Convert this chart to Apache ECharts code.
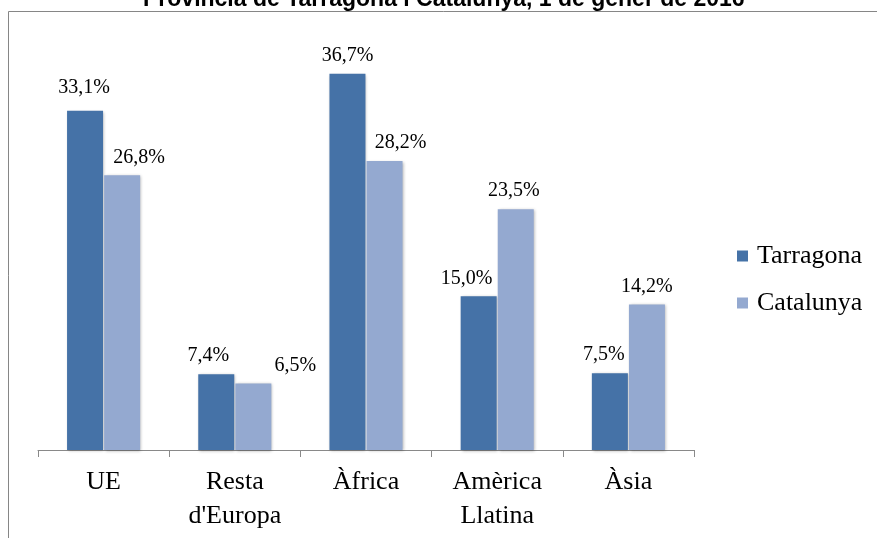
<!DOCTYPE html>
<html>
<head>
<meta charset="utf-8">
<script src="https://cdn.jsdelivr.net/npm/echarts@6/dist/echarts.min.js"></script>
<style>html,body{margin:0;padding:0;background:#fff;}#c{width:877px;height:538px;}</style>
</head>
<body>
<div id="c"></div>
<script>
var titleText = 'Província de Tarragona i Catalunya, 1 de gener de 2016';
var categories = ['UE', "Resta\nd'Europa", 'Àfrica', 'Amèrica\nLlatina', 'Àsia'];
var seriesNames = ['Tarragona', 'Catalunya'];
var tarragona = [33.1, 7.4, 36.7, 15.0, 7.5];
var catalunya = [26.8, 6.5, 28.2, 23.5, 14.2];

// label offsets (style only, per point)
var offT = [[-1, -5], [-8, 0], [0, 0], [-12, 0], [-6, 0]];
var offC = [[17, 0], [42, 0], [16, 0], [-2, 0], [0, 0]];

function fmt(p) { return p.value.toFixed(1).replace('.', ',') + '%'; }
function build(vals, offs) {
  return vals.map(function (v, i) {
    return { value: v, label: { offset: offs[i] } };
  });
}
var labelStyle = {
  show: true, position: 'top', distance: 8, formatter: fmt,
  fontFamily: 'Liberation Serif', fontSize: 20, color: '#000'
};
var chart = echarts.init(document.getElementById('c'));
chart.setOption({
  animation: false,
  title: {
    text: titleText, left: 143, top: -12, padding: 0,
    textStyle: { fontFamily: 'Liberation Sans', fontWeight: 'bold', fontSize: 23, color: '#000' }
  },
  graphic: [{
    type: 'rect', shape: { x: 8.5, y: 11.5, width: 900, height: 600 },
    style: { fill: 'none', stroke: '#868686', lineWidth: 1 }, z: -1
  }],
  legend: {
    orient: 'vertical', left: 737, top: 243, padding: 0, itemWidth: 11, itemHeight: 11, itemGap: 21,
    icon: 'rect',
    textStyle: { fontFamily: 'Liberation Serif', fontSize: 26, color: '#000', padding: [0, 0, 0, 4] },
    data: seriesNames
  },
  grid: { left: 38, right: 183, top: 40, bottom: 88 },
  xAxis: {
    type: 'category', data: categories,
    axisLine: { show: true, lineStyle: { color: '#898989', width: 1 } },
    axisTick: { show: true, length: 7, alignWithLabel: false, lineStyle: { color: '#898989', width: 1 } },
    axisLabel: { fontFamily: 'Liberation Serif', fontSize: 26, color: '#000', margin: 15, lineHeight: 34 }
  },
  yAxis: { type: 'value', min: 0, max: 40, show: false, splitLine: { show: false } },
  series: [{
    name: seriesNames[0], type: 'bar', data: build(tarragona, offT),
    barWidth: 36, barGap: '3%',
    itemStyle: { color: '#4572a7', shadowBlur: 3, shadowColor: 'rgba(0,0,0,0.3)', shadowOffsetX: 1, shadowOffsetY: 1 },
    label: labelStyle
  }, {
    name: seriesNames[1], type: 'bar', data: build(catalunya, offC),
    barWidth: 36,
    itemStyle: { color: '#94a9d0', shadowBlur: 3, shadowColor: 'rgba(0,0,0,0.3)', shadowOffsetX: 1, shadowOffsetY: 1 },
    label: labelStyle
  }]
});
</script>
</body>
</html>
